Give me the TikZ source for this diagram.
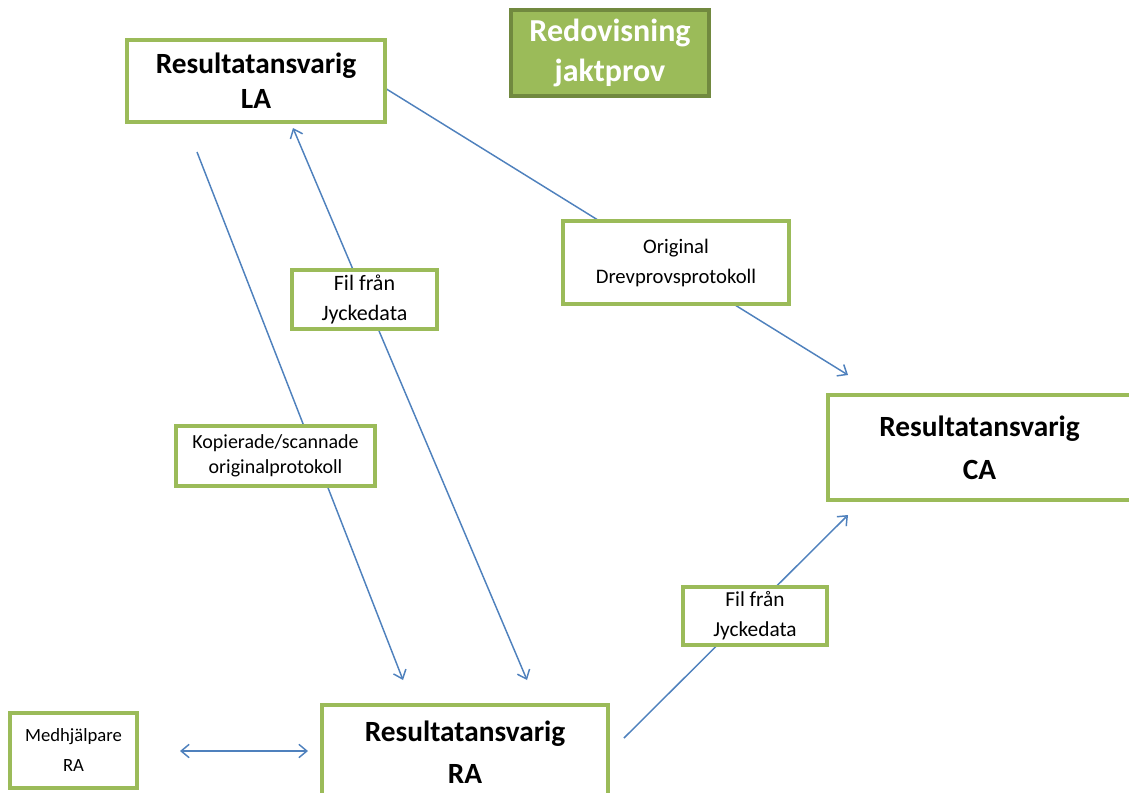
\documentclass[tikz,border=0pt]{standalone}
\usepackage{fontspec}
\setmainfont{Carlito}
\usetikzlibrary{arrows.meta}
\usetikzlibrary{backgrounds}
\definecolor{boxgreen}{HTML}{9BBB59}
\definecolor{darkgreen}{HTML}{71893F}
\definecolor{flowblue}{HTML}{4F81BD}
\tikzset{%
  role/.style = {rectangle,draw=boxgreen,line width=2.6pt,fill=white,
        align=center,inner sep=0pt,
        font=\bfseries\fontsize{22}{26}\selectfont},
  doc/.style = {rectangle,draw=boxgreen,line width=2.3pt,fill=white,
        align=center,inner sep=0pt,
        font=\fontsize{16}{22.5}\selectfont},
  heading/.style = {rectangle,draw=darkgreen,line width=2.4pt,fill=boxgreen,
        align=center,inner sep=0pt,text=white,
        font=\bfseries\fontsize{24}{30}\selectfont},
  flow/.style = {draw=flowblue,line width=1.1pt,
        -{Straight Barb[length=6pt,width=10pt]}},
  twoway/.style = {draw=flowblue,line width=1.1pt,
        {Straight Barb[length=6pt,width=10pt]}-{Straight Barb[length=6pt,width=10pt]}}
}
\begin{document}
\begin{tikzpicture}[x=0.75pt,y=-0.75pt]
    \useasboundingbox (0,0) rectangle (1129,793);
    \clip (0,0) rectangle (1129,793);
    % roles
    \node[heading,minimum width=148.5pt,minimum height=64.5pt] (title) at (610,53) {Redovisning\\jaktprov};
    \node[role,minimum width=193.5pt,minimum height=61.5pt] (la) at (256,81) {Resultatansvarig\\LA};
    \node[role,minimum width=227.25pt,minimum height=78.75pt,font=\bfseries\fontsize{22}{32}\selectfont] (ca) at (979.5,447.5) {Resultatansvarig\\CA};
    \node[role,minimum width=214.5pt,minimum height=71.25pt,font=\bfseries\fontsize{22}{31.5}\selectfont] (ra) at (465,752.5) {Resultatansvarig\\RA};
    \node[doc,minimum width=95.25pt,minimum height=56.25pt,font=\fontsize{14}{22.5}\selectfont] (med) at (73.5,750.5) {Medhjälpare\\RA};
    % documents on the arrows
    \node[doc,minimum width=169.5pt,minimum height=62.25pt,font=\fontsize{15.5}{22.5}\selectfont] (orig) at (676,262.5) {Original\\Drevprovsprotokoll};
    \node[doc,minimum width=108.75pt,minimum height=44.25pt,font=\fontsize{16.5}{22.5}\selectfont] (filtop) at (364.5,299.5) {Fil från\\Jyckedata};
    \node[doc,minimum width=149.25pt,minimum height=45pt,font=\fontsize{15}{19}\selectfont] (kopia) at (275.5,456) {Kopierade/scannade\\originalprotokoll};
    \node[doc,minimum width=108pt,minimum height=43.5pt] (filbot) at (755,616) {Fil från\\Jyckedata};
    % free ends of the arrows
    \coordinate (la-out) at (197,152);
    \coordinate (la-in) at (293,128);
    \coordinate (la-right) at (380,85);
    \coordinate (ra-in1) at (403,680);
    \coordinate (ra-in2) at (527,680);
    \coordinate (ra-right) at (624,738);
    \coordinate (ra-left) at (308,751);
    \coordinate (med-right) at (180,751);
    \coordinate (ca-in1) at (848,375);
    \coordinate (ca-in2) at (848,515);
    \begin{scope}[on background layer]
        \draw[flow] (la-out) -- (ra-in1);
        \draw[twoway] (la-in) -- (ra-in2);
        \draw[flow] (la-right) -- (ca-in1);
        \draw[flow] (ra-right) -- (ca-in2);
        \draw[twoway] (med-right) -- (ra-left);
    \end{scope}
\end{tikzpicture}
\end{document}
